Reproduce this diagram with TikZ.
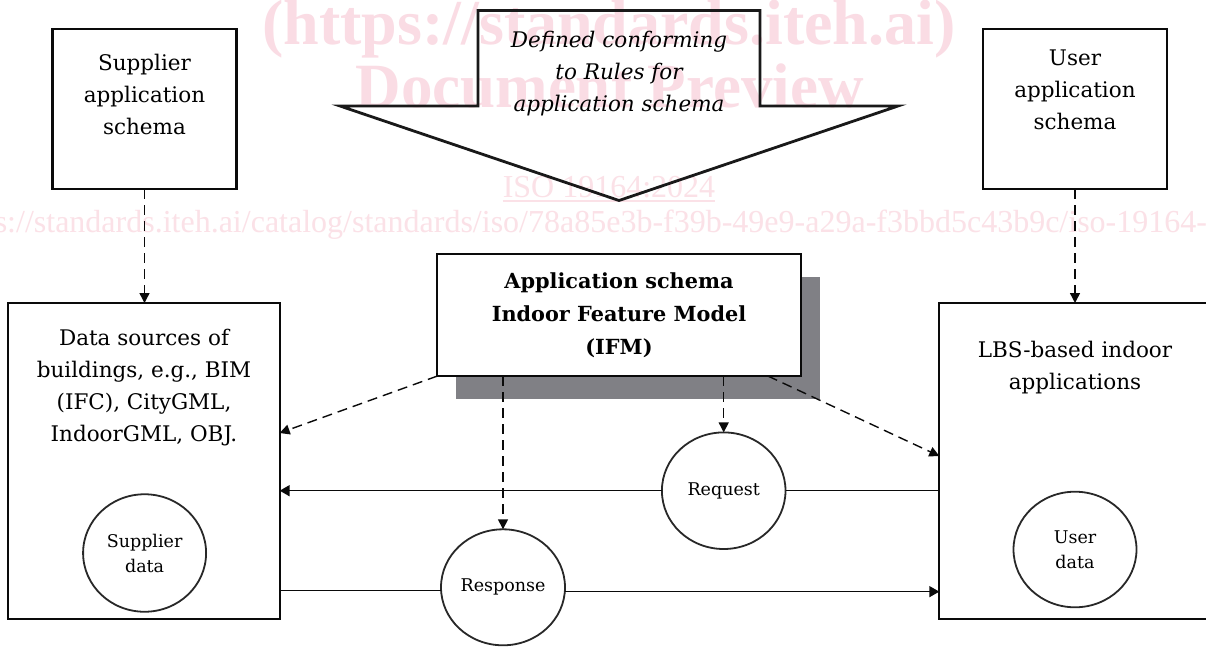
\documentclass[tikz,border=0pt]{standalone}
\usepackage{fontspec}
\setmainfont{DejaVu Serif}
\newfontfamily\wmfont{Liberation Serif}
\usetikzlibrary{arrows.meta,shapes.geometric,shadows,calc}
\definecolor{wm}{RGB}{250,220,228}
\definecolor{wmlight}{RGB}{251,225,231}
\definecolor{shadowgray}{RGB}{128,128,133}
\definecolor{linec}{RGB}{10,10,10}
\definecolor{circc}{RGB}{40,40,40}
\definecolor{arrc}{RGB}{25,25,25}
\begin{document}
\begin{tikzpicture}[x=1pt,y=-1pt,
  every node/.style={inner sep=0pt, outer sep=0pt},
  box/.style={draw=linec, line width=2.1pt, rectangle},
  txt/.style={align=center, font=\fontsize{21.5}{32}\selectfont},
  itxt/.style={align=center, font=\fontsize{21.5}{32}\selectfont\itshape},
  btxt/.style={align=center, font=\fontsize{20.8}{33}\selectfont\bfseries},
  ctxt/.style={align=center, font=\fontsize{17.5}{25}\selectfont},
  bubble/.style={draw=circc, line width=1.8pt, ellipse, fill=white},
  dasharr/.style={draw=linec, line width=1.4pt, dash pattern=on 10pt off 6pt, -{Triangle[length=10pt,width=10pt]}},
  solarr/.style={draw=linec, line width=1.5pt, -{Triangle[length=10pt,width=11pt]}},
  sol/.style={draw=linec, line width=1.5pt},
  wmbig/.style={text=wm, font=\wmfont\fontsize{64}{64}\selectfont\bfseries, anchor=base},
  wmsmall/.style={text=wmlight, font=\wmfont\fontsize{32}{32}\selectfont, anchor=base}]

\useasboundingbox (0,0) rectangle (1206,646);
\clip (0,0) rectangle (1206,646);
\fill[white] (0,0) rectangle (1206,646);

% watermark
\node[wmbig] (wm1) at (609,44) {(https://standards.iteh.ai)};
\node[wmbig, font=\wmfont\fontsize{63}{63}\selectfont\bfseries] (wm2) at (609.5,107) {Document Preview};
\node[wmsmall] (wm3) at (609,197) {ISO 19164:2024};
\draw[wmlight, line width=1.6pt] ($(wm3.base west)+(0,4)$) -- ($(wm3.base east)+(0,4)$);
\node[wmsmall, anchor=base west] (wm4) at (-55,232) {https://standards.iteh.ai/catalog/standards/iso/78a85e3b-f39b-49e9-a29a-f3bbd5c43b9c/iso-19164-2024};

% big block arrow
\draw[arrc, line width=2.8pt, line join=miter] (478,10.5) -- (760,10.5) -- (760,106) -- (898,106) -- (619,200.5) -- (340,106) -- (478,106) -- cycle;
\node[itxt] (rules) at (619,74) {Defined conforming\\to Rules for\\application schema};

% schema boxes
\node[box, minimum width=184pt, minimum height=160pt] (sup) at (144.5,109) {};
\node[txt] (suptxt) at (144.5,94) {Supplier\\application\\schema};
\node[box, minimum width=184.7pt, minimum height=160pt] (usr) at (1075,109) {};
\node[txt] (usrtxt) at (1075,90) {User\\application\\schema};

% data source boxes
\node[box, minimum width=271.3pt, minimum height=316pt] (data) at (144,461) {};
\node[txt] (datatxt) at (144,388) {Data sources of\\buildings, e.g., BIM\\(IFC), CityGML,\\IndoorGML, OBJ.};
\node[box, minimum width=300pt, minimum height=316pt, anchor=north west] (lbs) at (939.3,303) {};
\node[txt] (lbstxt) at (1075,367.5) {LBS-based indoor\\applications};

% IFM
\node[box, fill=white, minimum width=363.4pt, minimum height=121.7pt,
  drop shadow={shadow xshift=19pt, shadow yshift=-22.5pt, fill=shadowgray, opacity=1}, btxt] (ifm) at (619,315.2)
  {Application schema\\Indoor Feature Model\\(IFM)};

% bubbles
\node[bubble, minimum width=123pt, minimum height=117.5pt, ctxt] (supdata) at (144.6,553) {Supplier\\data};
\node[bubble, minimum width=123pt, minimum height=115.6pt, ctxt] (usrdata) at (1075,549.5) {User\\data};
\node[bubble, minimum width=123.6pt, minimum height=116.6pt, ctxt] (req) at (723.7,490.7) {Request};
\node[bubble, minimum width=124pt, minimum height=116pt, ctxt] (resp) at (503,587.3) {Response};

% dashed connectors
\draw[dasharr] (sup.south) -- (sup.south |- data.north);
\draw[dasharr] (usr.south) -- (usr.south |- lbs.north);
\draw[dasharr] (ifm.south west) -- (data.east |- 0,433);
\draw[dasharr] ($(ifm.south west)!0.91!(ifm.south east)$) -- (lbs.west |- 0,456);
\draw[dasharr] (ifm.south -| req.north) -- (req.north);
\draw[dasharr] (ifm.south -| resp.north) -- (resp.north);

% request / response flows
\draw[sol] (lbs.west |- req.east) -- (req.east);
\draw[solarr] (req.west) -- (data.east |- req.west);
\draw[sol] (data.east |- resp.183.7) -- (resp.183.7);
\draw[solarr] (resp.356.3) -- (lbs.west |- resp.356.3);
\end{tikzpicture}
\end{document}
